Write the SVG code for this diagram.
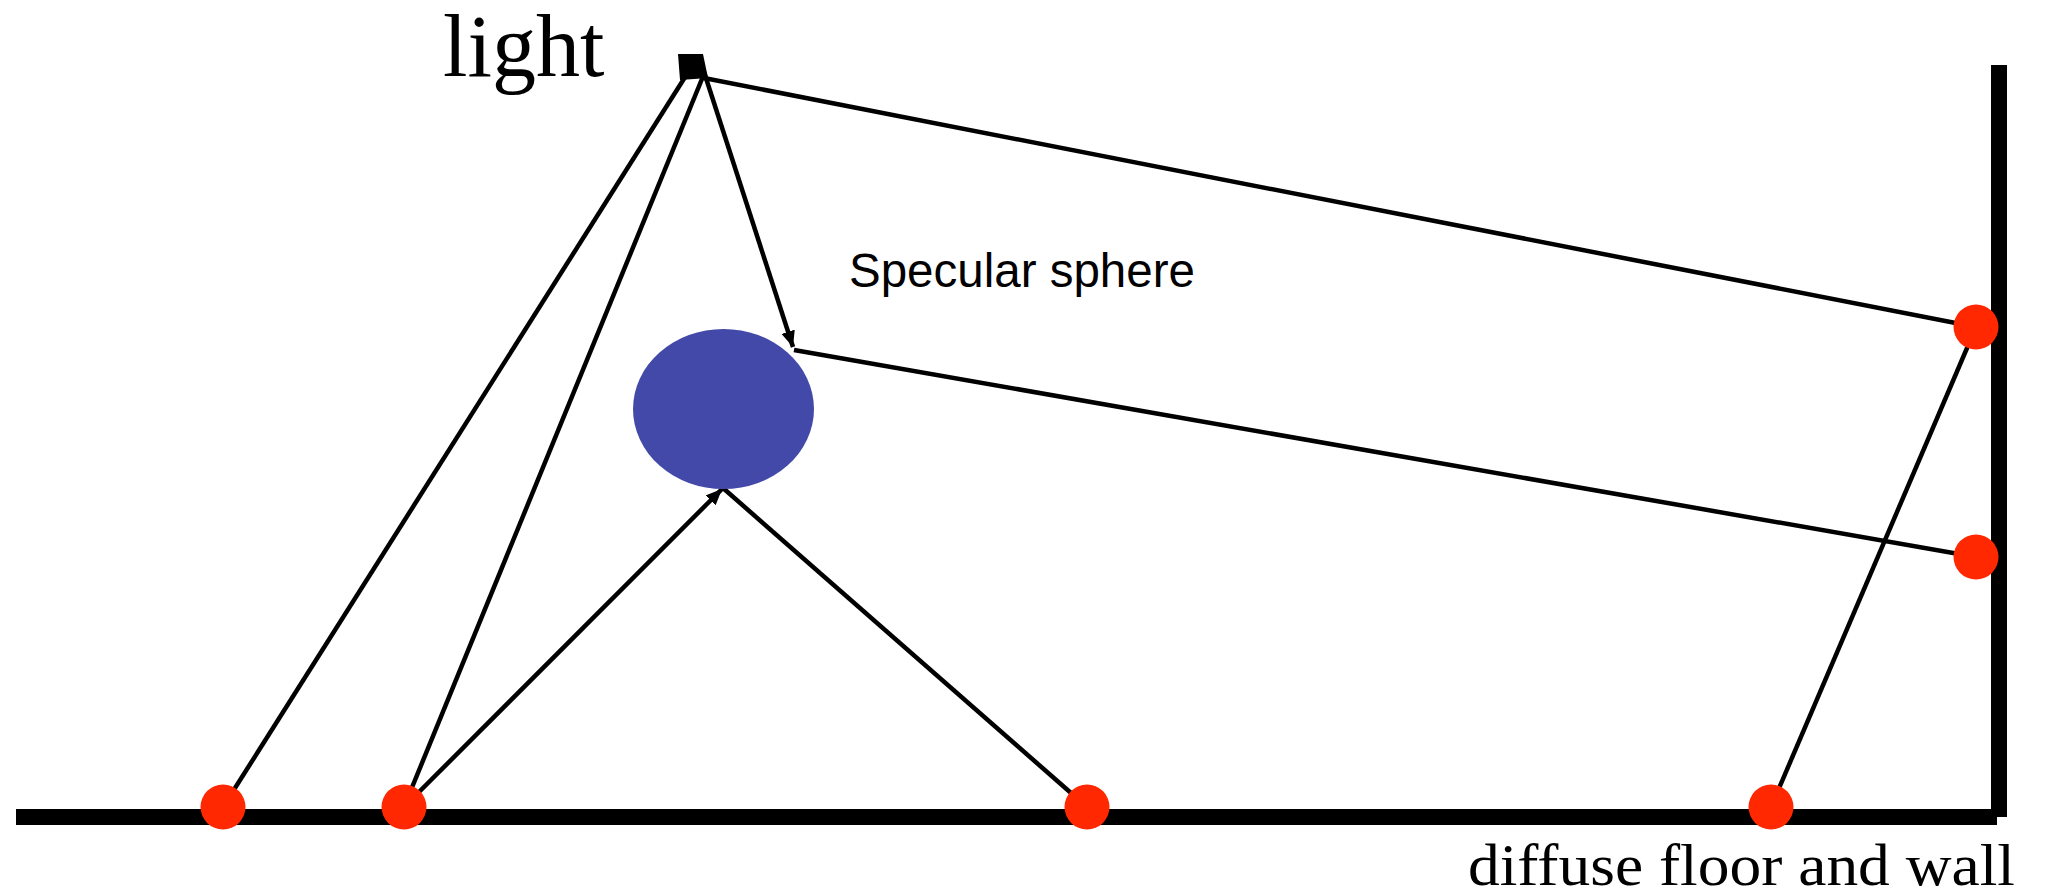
<svg xmlns="http://www.w3.org/2000/svg" width="2050" height="892" viewBox="0 0 2050 892">
<style>
.ray{stroke:#000;stroke-width:4.5;fill:none}
.dot{fill:#FF2800}
.serif{font-family:"Liberation Serif","Times New Roman",serif;fill:#000}
.sans{font-family:"Liberation Sans",Arial,sans-serif;fill:#000}
</style>
<defs>
<marker id="arr" markerUnits="userSpaceOnUse" markerWidth="18" markerHeight="14" refX="16" refY="7" orient="auto">
<path d="M0,0 L16,7 L0,14 Z" fill="#000"/>
</marker>
</defs>
<rect width="2050" height="892" fill="#fff"/>
<g id="surfaces">
<line x1="16" y1="817" x2="1997" y2="817" stroke="#000" stroke-width="16"/>
<line x1="1999" y1="65" x2="1999" y2="817" stroke="#000" stroke-width="16"/>
</g>
<g id="connectors">
<line class="ray" x1="687" y1="74" x2="223" y2="807"/>
<line class="ray" x1="704" y1="74" x2="404" y2="807"/>
<line class="ray" x1="704" y1="72" x2="793" y2="347" marker-end="url(#arr)"/>
<line class="ray" x1="704" y1="78" x2="1976" y2="327"/>
<line class="ray" x1="794" y1="350" x2="1976" y2="557"/>
<line class="ray" x1="404" y1="807" x2="722" y2="489" marker-end="url(#arr)"/>
<line class="ray" x1="723" y1="488" x2="1087" y2="807"/>
<line class="ray" x1="1976" y1="327" x2="1771" y2="807"/>
</g>
<g id="light">
<polygon points="678,54 703,54 708,78 680,80" fill="#000"/>
<text class="serif" x="443" y="76" font-size="88">light</text>
</g>
<g id="sphere">
<ellipse cx="723.5" cy="409" rx="90.5" ry="80" fill="#4349A8"/>
<text class="sans" x="849" y="287" font-size="47.5">Specular sphere</text>
</g>
<g id="dots">
<circle class="dot" cx="223" cy="807" r="22.5"/>
<circle class="dot" cx="404" cy="807" r="22.5"/>
<circle class="dot" cx="1087" cy="807" r="22.5"/>
<circle class="dot" cx="1771" cy="807" r="22.5"/>
<circle class="dot" cx="1976" cy="327" r="22.5"/>
<circle class="dot" cx="1976" cy="557" r="22.5"/>
</g>
<g id="caption">
<text class="serif" x="1468" y="885" font-size="60" textLength="547" lengthAdjust="spacingAndGlyphs">diffuse floor and wall</text>
</g>
</svg>
